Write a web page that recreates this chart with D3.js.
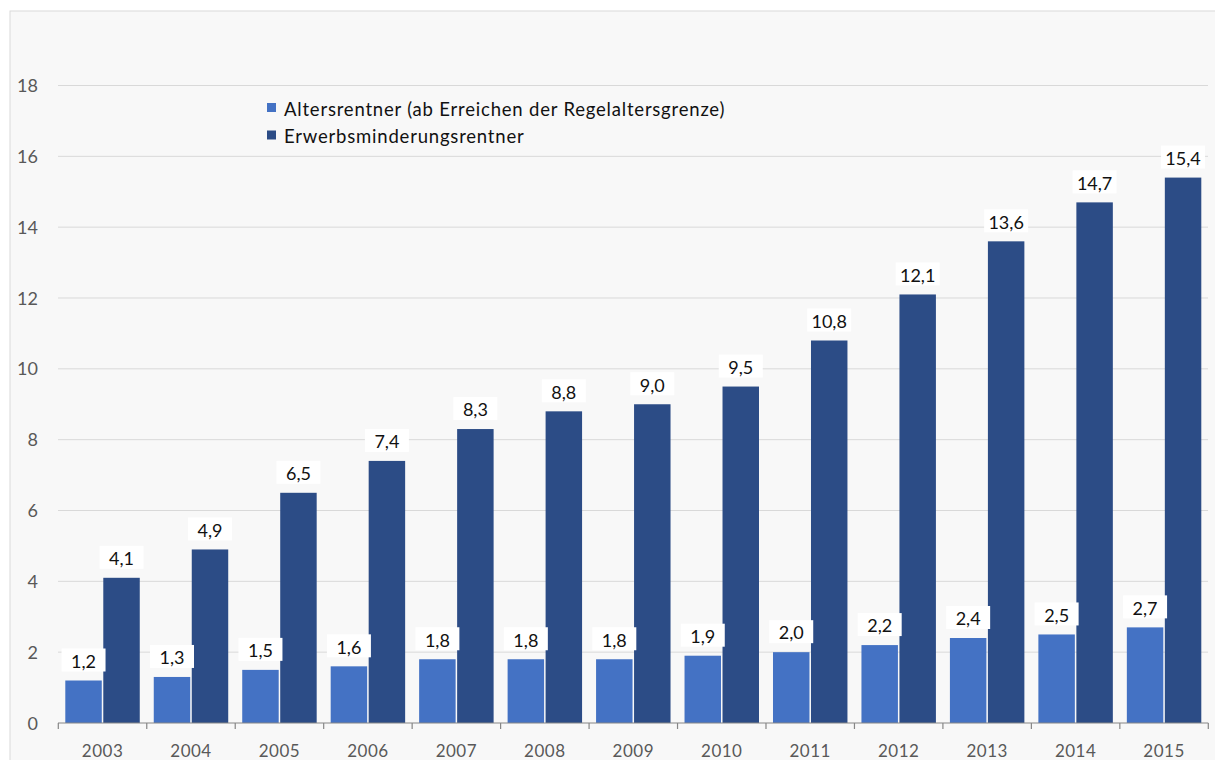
<!DOCTYPE html>
<html><head><meta charset="utf-8">
<script src="https://cdn.jsdelivr.net/npm/d3@7"></script>
<style>body{margin:0;background:#fff;}svg{display:block;font-family:Lato,"Open Sans",sans-serif;}</style>
</head><body><svg id="c" width="1215" height="760"></svg>
<script>
const years = ["2003","2004","2005","2006","2007","2008","2009","2010","2011","2012","2013","2014","2015"];
const altersrentner = [1.2,1.3,1.5,1.6,1.8,1.8,1.8,1.9,2.0,2.2,2.4,2.5,2.7];
const erwerbsminderung = [4.1,4.9,6.5,7.4,8.3,8.8,9.0,9.5,10.8,12.1,13.6,14.7,15.4];
const seriesNames = ["Altersrentner (ab Erreichen der Regelaltersgrenze)","Erwerbsminderungsrentner"];
const yTicks = [0,2,4,6,8,10,12,14,16,18];
const colors = ["#4472C4","#2C4C86"];

const svg = d3.select("#c");
svg.append("rect").attr("x",10).attr("y",11).attr("width",1215).attr("height",760)
  .attr("fill","#f8f8f8").attr("stroke","#d9d9d9");

const x0 = d3.scaleBand().domain(years).range([58.3,1208.3]).paddingInner(0).paddingOuter(0);
const y = d3.scaleLinear().domain([0,18]).range([723,85.5]);
const x1 = d3.scaleBand().domain([0,1]).range([7,x0.bandwidth()-7]).paddingInner(0.04);

// gridlines
svg.append("g").selectAll("line").data(yTicks.filter(d=>d>0)).join("line")
  .attr("x1",58).attr("x2",1208).attr("y1",d=>y(d)).attr("y2",d=>y(d))
  .attr("stroke","#d9d9d9").attr("stroke-width",1);

// y labels
svg.append("g").selectAll("text").data(yTicks).join("text")
  .attr("x",38).attr("y",d=>y(d)+6.5).attr("text-anchor","end")
  .attr("fill","#595959").attr("font-size",18).text(d=>d);

const data = years.map((yr,i)=>({yr, vals:[altersrentner[i], erwerbsminderung[i]]}));
const fmt = v => v.toFixed(1).replace(".",",");

const groups = svg.append("g").selectAll("g").data(data).join("g")
  .attr("transform",d=>`translate(${x0(d.yr)},0)`);
groups.selectAll("rect.bar").data(d=>d.vals.map((v,k)=>({v,k}))).join("rect")
  .attr("class","bar")
  .attr("x",d=>x1(d.k)).attr("width",x1.bandwidth())
  .attr("y",d=>y(d.v)).attr("height",d=>y(0)-y(d.v))
  .attr("fill",d=>colors[d.k]);

// labels with white background
const lab = groups.selectAll("g.lab").data(d=>d.vals.map((v,k)=>({v,k}))).join("g").attr("class","lab");
lab.append("rect")
  .attr("x",d=>x1(d.k)+x1.bandwidth()/2-22).attr("y",d=>y(d.v)-32)
  .attr("width",44).attr("height",23).attr("fill","#fff");
lab.append("text")
  .attr("x",d=>x1(d.k)+x1.bandwidth()/2).attr("y",d=>y(d.v)-12.7)
  .attr("text-anchor","middle").attr("font-size",18).attr("fill","#111")
  .text(d=>fmt(d.v));

// x axis
const ax = svg.append("g");
ax.append("line").attr("x1",58).attr("x2",1208.3).attr("y1",723).attr("y2",723)
  .attr("stroke","#868686").attr("stroke-width",1.2);
const tickXs = years.map(yr=>x0(yr)).concat([x0.range()[1]]);
ax.selectAll("line.t").data(tickXs).join("line").attr("class","t")
  .attr("x1",d=>d).attr("x2",d=>d).attr("y1",723).attr("y2",729)
  .attr("stroke","#868686").attr("stroke-width",1.2);
ax.selectAll("text").data(years).join("text")
  .attr("x",d=>x0(d)+x0.bandwidth()/2).attr("y",757).attr("text-anchor","middle")
  .attr("fill","#595959").attr("font-size",17).attr("letter-spacing",0.5).text(d=>d);

// legend
const lg = svg.append("g").selectAll("g").data(seriesNames).join("g")
  .attr("transform",(d,i)=>`translate(267,${103+i*27.5})`);
lg.append("rect").attr("width",9).attr("height",9).attr("fill",(d,i)=>colors[i]);
lg.append("text").attr("x",17).attr("y",12.5).attr("font-size",18.5).attr("letter-spacing",0.8)
  .attr("fill","#111").text(d=>d);
</script></body></html>
